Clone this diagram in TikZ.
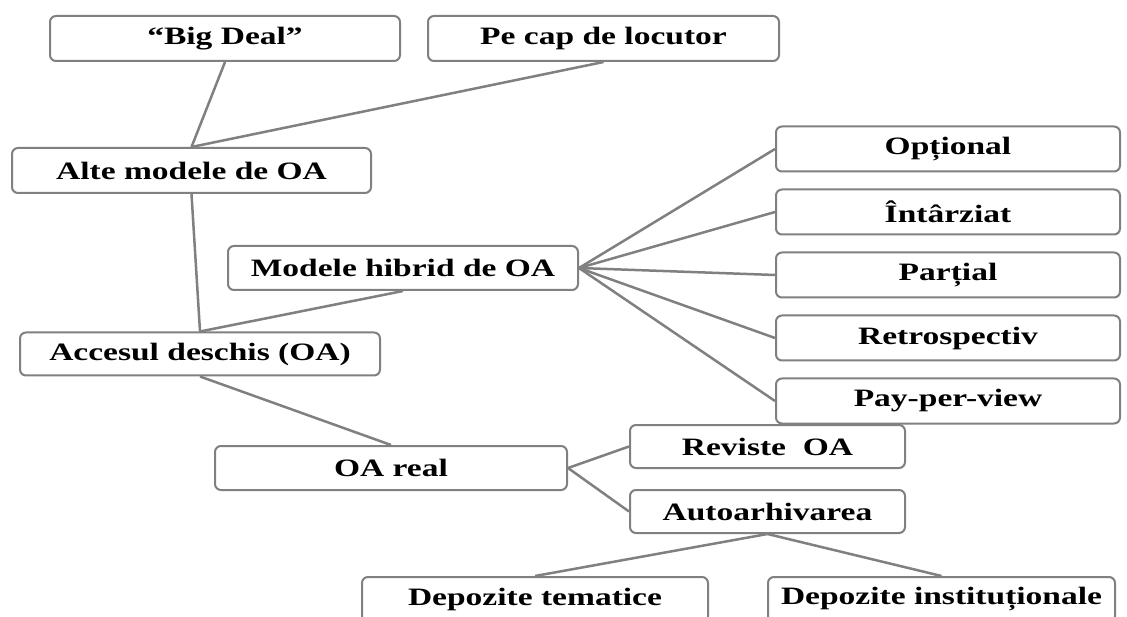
\documentclass[tikz,border=0pt]{standalone}
\usepackage{fontspec}
\setmainfont{Liberation Serif}[FakeStretch=1.34]
\begin{document}
\begin{tikzpicture}[x=1pt,y=-1pt,
  box/.style={draw=boxgray, line width=2pt, rounded corners=6pt, fill=white,
    inner sep=0pt, minimum height=45pt, font=\fontsize{25}{30}\selectfont\bfseries},
  link/.style={draw=boxgray, line width=2.5pt}]
\definecolor{boxgray}{HTML}{808080}
\clip (0,0) rectangle (1127,617);
\fill[white] (0,0) rectangle (1127,617);
% nodes
\node[box, minimum width=350pt] (bigdeal) at (225,38.5) {“Big Deal”};
\node[box, minimum width=351pt] (pecap) at (603.5,38.5) {Pe cap de locutor};
\node[box, minimum width=359pt] (alte) at (191.5,170.5) {Alte modele de OA};
\node[box, minimum width=350pt, minimum height=44pt] (hibrid) at (403,268) {Modele hibrid de OA};
\node[box, minimum width=360pt, minimum height=43pt] (accesul) at (200,354) {Accesul deschis (OA)};
\node[box, minimum width=344pt] (optional) at (948,149) {Opțional};
\node[box, minimum width=344pt] (intarziat) at (948,212) {Întârziat};
\node[box, minimum width=344pt] (partial) at (948,275) {Parțial};
\node[box, minimum width=344pt] (retro) at (948,338) {Retrospectiv};
\node[box, minimum width=344pt] (payper) at (948,401) {Pay-per-view};
\node[box, minimum width=275pt, minimum height=43pt] (reviste) at (767.5,446.5) {Reviste\ \ OA};
\node[box, minimum width=352pt, minimum height=44pt] (oareal) at (391,468) {OA real};
\node[box, minimum width=275pt, minimum height=43pt] (autoarh) at (767.5,511.5) {Autoarhivarea};
\node[box, minimum width=346pt] (deptem) at (535,599.5) {Depozite tematice};
\node[box, minimum width=347pt] (depinst) at (941.5,599.5) {Depozite instituționale};
% connectors
\draw[link] (bigdeal.south) -- (alte.north);
\draw[link] (pecap.south) -- (alte.north);
\draw[link] (alte.south) -- (accesul.north);
\draw[link] (hibrid.south) -- (accesul.north);
\draw[link] (accesul.south) -- (oareal.north);
\foreach \t in {optional,intarziat,partial,retro,payper}
  \draw[link] (hibrid.east) -- (\t.west);
\draw[link] (oareal.east) -- (reviste.west);
\draw[link] (oareal.east) -- (autoarh.west);
\draw[link] (autoarh.south) -- (deptem.north);
\draw[link] (autoarh.south) -- (depinst.north);
\end{tikzpicture}
\end{document}
